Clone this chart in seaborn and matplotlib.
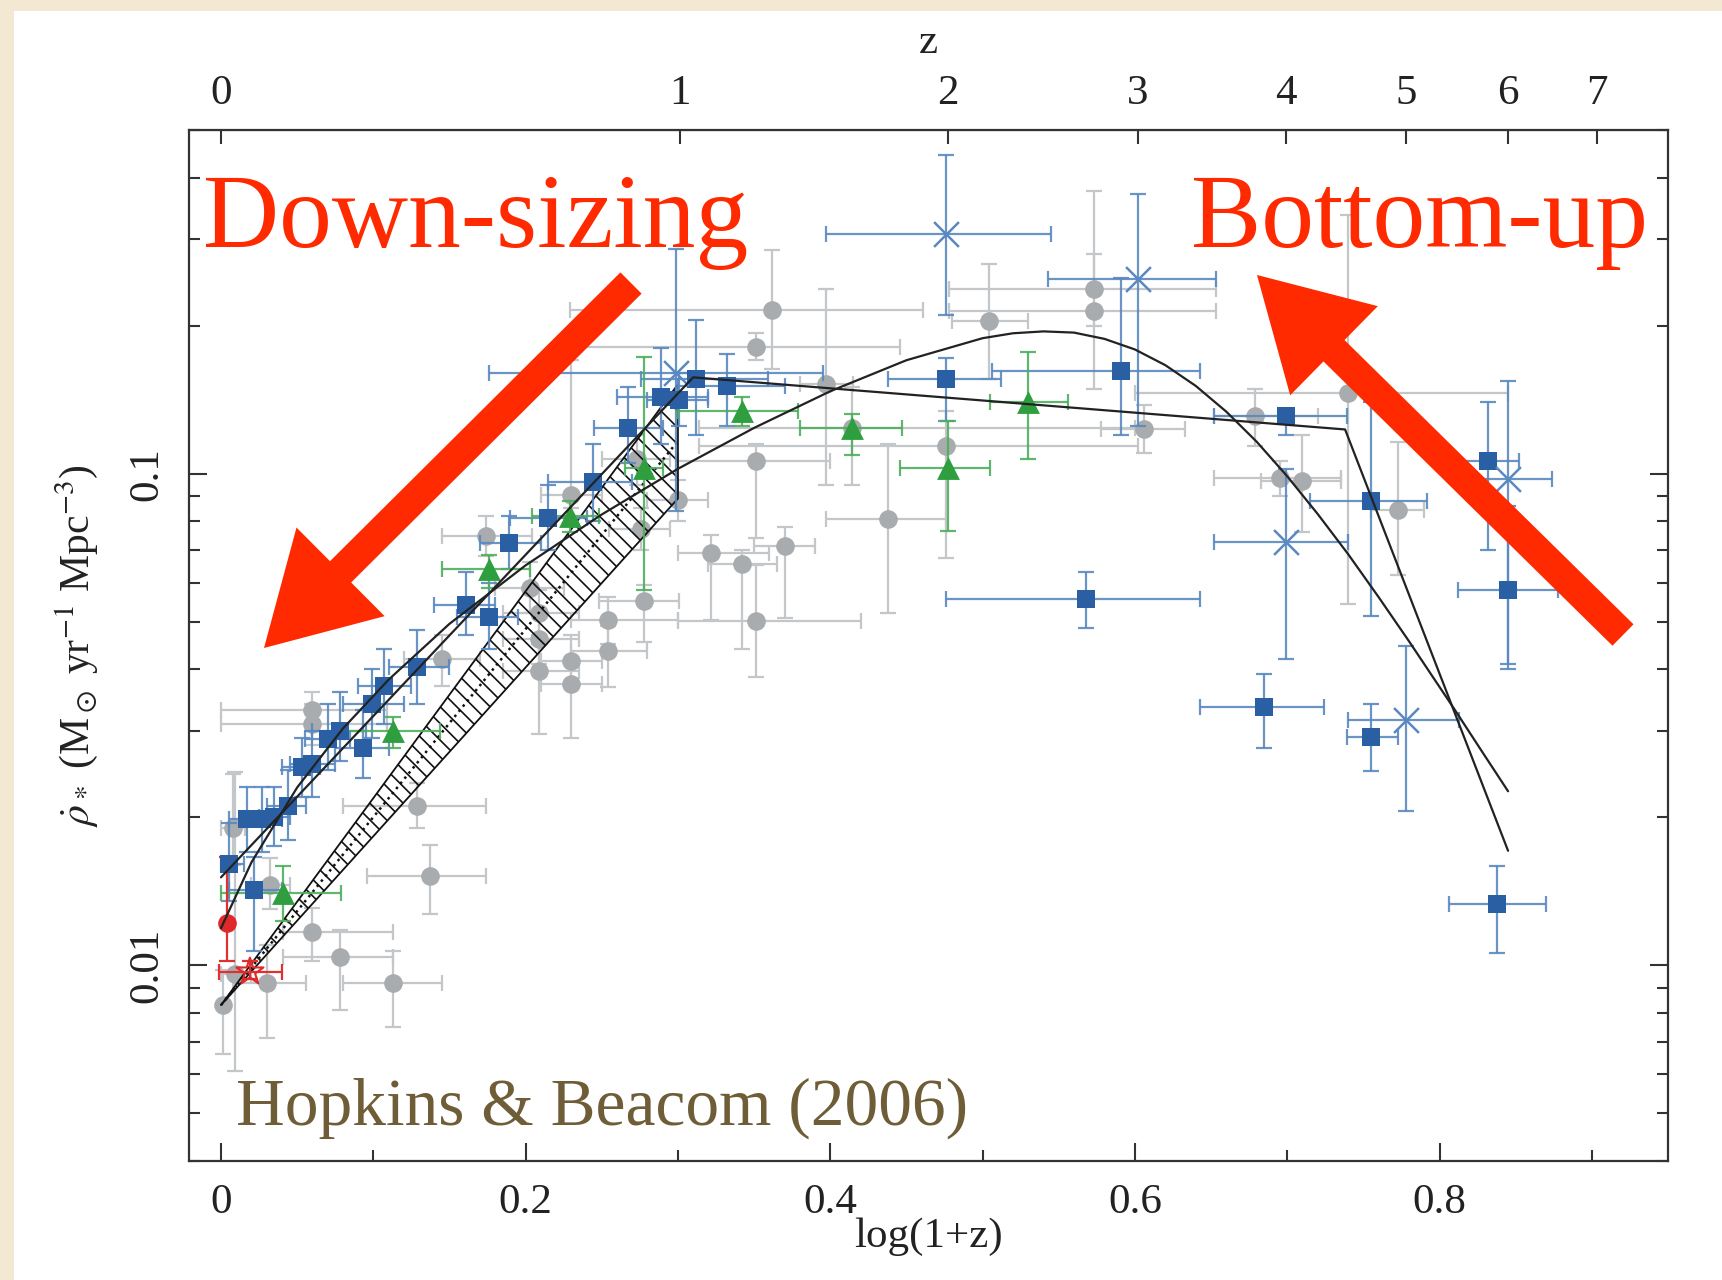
import matplotlib
matplotlib.use('Agg')
import matplotlib.pyplot as plt
from matplotlib.patches import FancyArrow, Rectangle
from matplotlib.transforms import IdentityTransform
from matplotlib.ticker import LogLocator, NullFormatter, MultipleLocator
import numpy as np
import seaborn as sns

# ---- data: x = log(1+z), y = SFR density; *_xlo/_xhi/_ylo/_yhi are error-bar ends ----
# grey circles (literature compilation)
grey_x   = [0.001, 0.009, 0.008, 0.032, 0.030, 0.060, 0.060, 0.060, 0.078, 0.113, 0.137, 0.129, 0.145, 0.174, 0.203, 0.209,
            0.209, 0.209, 0.230, 0.230, 0.230, 0.254, 0.254, 0.278, 0.322, 0.342, 0.351, 0.370, 0.362, 0.351, 0.351, 0.273,
            0.300, 0.276, 0.504, 0.573, 0.573, 0.606, 0.476, 0.438, 0.397, 0.740, 0.679, 0.710, 0.773, 0.695, 0.414]
grey_y   = [0.0083, 0.0096, 0.0190, 0.0146, 0.0092, 0.0331, 0.0309, 0.0117, 0.0104, 0.0092, 0.0152, 0.0211, 0.0420, 0.0746,
            0.0586, 0.0520, 0.0461, 0.0397, 0.0416, 0.0373, 0.0907, 0.0505, 0.0435, 0.0551, 0.0690, 0.0656, 0.0501, 0.0713,
            0.215, 0.181, 0.106, 0.107, 0.0884, 0.0773, 0.204, 0.214, 0.237, 0.123, 0.114, 0.081, 0.152, 0.146, 0.131,
            0.0965, 0.0844, 0.098, 0.124]
grey_xlo = [0.0, 0.0, 0.0, 0.020, 0.008, 0.0, 0.0, 0.041, 0.041, 0.080, 0.096, 0.080, 0.120, 0.145, 0.180, 0.185,
            0.185, 0.185, 0.210, 0.210, 0.210, 0.230, 0.230, 0.248, 0.300, 0.320, 0.300, 0.350, 0.229, 0.229, 0.300, 0.250,
            0.280, 0.255, 0.480, 0.478, 0.478, 0.578, 0.314, 0.397, 0.380, 0.600, 0.652, 0.683, 0.755, 0.652, 0.314]
grey_xhi = [0.003, 0.020, 0.016, 0.045, 0.056, 0.109, 0.109, 0.113, 0.113, 0.145, 0.174, 0.174, 0.170, 0.204, 0.225, 0.235,
            0.235, 0.235, 0.250, 0.250, 0.250, 0.300, 0.280, 0.301, 0.360, 0.365, 0.420, 0.390, 0.461, 0.446, 0.400, 0.295,
            0.320, 0.295, 0.530, 0.653, 0.653, 0.633, 0.602, 0.476, 0.415, 0.845, 0.720, 0.735, 0.790, 0.735, 0.600]
grey_ylo = [0.0066, 0.0061, 0.0160, 0.0130, 0.0071, 0.0300, 0.0280, 0.0102, 0.0081, 0.0075, 0.0127, 0.0190, 0.0370, 0.0680,
            0.0520, 0.0470, 0.0410, 0.0296, 0.0370, 0.0290, 0.0850, 0.0450, 0.0369, 0.0455, 0.0505, 0.0439, 0.0385, 0.0508,
            0.163, 0.170, 0.074, 0.095, 0.080, 0.070, 0.156, 0.149, 0.200, 0.110, 0.0673, 0.052, 0.095, 0.0543, 0.114,
            0.076, 0.0623, 0.090, 0.095]
grey_yhi = [0.0098, 0.0247, 0.0245, 0.0165, 0.0110, 0.0360, 0.0340, 0.0131, 0.0118, 0.0107, 0.0176, 0.0235, 0.0470, 0.0820,
            0.0660, 0.0580, 0.0520, 0.0450, 0.0470, 0.0420, 0.170, 0.0560, 0.0490, 0.0595, 0.0750, 0.0700, 0.0653, 0.0780,
            0.285, 0.193, 0.115, 0.120, 0.097, 0.085, 0.267, 0.375, 0.280, 0.138, 0.134, 0.115, 0.238, 0.336, 0.149,
            0.120, 0.116, 0.106, 0.150]

# blue squares
sq_x   = [0.838, 0.685, 0.755, 0.568, 0.755, 0.832, 0.845, 0.699, 0.591, 0.476, 0.332, 0.312, 0.289, 0.301, 0.267, 0.244,
          0.215, 0.189, 0.176, 0.161, 0.129, 0.107, 0.099, 0.093, 0.078, 0.070, 0.060, 0.053, 0.044, 0.035, 0.027, 0.017,
          0.005, 0.022]
sq_y   = [0.0133, 0.0335, 0.0291, 0.0557, 0.088, 0.106, 0.058, 0.131, 0.162, 0.156, 0.151, 0.156, 0.143, 0.141, 0.124,
          0.096, 0.0814, 0.0723, 0.051, 0.054, 0.0405, 0.037, 0.034, 0.0277, 0.030, 0.0288, 0.0257, 0.0253, 0.0211, 0.020,
          0.0198, 0.0198, 0.0161, 0.0142]
sq_xlo = [0.806, 0.643, 0.739, 0.476, 0.715, 0.812, 0.812, 0.652, 0.506, 0.438, 0.300, 0.276, 0.260, 0.280, 0.245, 0.215,
          0.190, 0.170, 0.155, 0.140, 0.110, 0.090, 0.080, 0.075, 0.060, 0.055, 0.045, 0.040, 0.030, 0.025, 0.015, 0.005,
          0.0, 0.005]
sq_xhi = [0.870, 0.724, 0.773, 0.643, 0.792, 0.852, 0.878, 0.739, 0.643, 0.512, 0.370, 0.359, 0.320, 0.320, 0.290, 0.270,
          0.240, 0.210, 0.195, 0.180, 0.150, 0.125, 0.120, 0.110, 0.095, 0.085, 0.075, 0.065, 0.056, 0.045, 0.040, 0.030,
          0.015, 0.040]
sq_ylo = [0.0106, 0.0277, 0.0249, 0.0486, 0.0513, 0.0698, 0.040, 0.120, 0.120, 0.128, 0.125, 0.120, 0.115, 0.125, 0.105,
          0.080, 0.070, 0.064, 0.044, 0.047, 0.034, 0.031, 0.029, 0.024, 0.026, 0.025, 0.022, 0.022, 0.018, 0.0175, 0.017,
          0.017, 0.0135, 0.0107]
sq_yhi = [0.0159, 0.0391, 0.034, 0.063, 0.140, 0.140, 0.086, 0.135, 0.250, 0.172, 0.175, 0.205, 0.180, 0.160, 0.150, 0.115,
          0.095, 0.082, 0.060, 0.063, 0.048, 0.044, 0.040, 0.033, 0.036, 0.034, 0.030, 0.029, 0.025, 0.023, 0.023, 0.023,
          0.0195, 0.0166]

# blue crosses
cr_x   = [0.476, 0.602, 0.699, 0.778, 0.845, 0.299]
cr_y   = [0.307, 0.249, 0.0727, 0.0315, 0.0975, 0.160]
cr_xlo = [0.397, 0.543, 0.652, 0.740, 0.812, 0.176]
cr_xhi = [0.545, 0.653, 0.740, 0.813, 0.874, 0.395]
cr_ylo = [0.210, 0.125, 0.042, 0.0206, 0.041, 0.084]
cr_yhi = [0.444, 0.371, 0.102, 0.0446, 0.154, 0.287]

# green triangles
tri_x   = [0.041, 0.113, 0.176, 0.229, 0.278, 0.342, 0.414, 0.477, 0.530]
tri_y   = [0.0140, 0.0299, 0.064, 0.082, 0.1026, 0.134, 0.124, 0.1026, 0.140]
tri_xlo = [0.0, 0.079, 0.145, 0.204, 0.265, 0.300, 0.380, 0.446, 0.505]
tri_xhi = [0.079, 0.144, 0.203, 0.248, 0.290, 0.379, 0.447, 0.505, 0.556]
tri_ylo = [0.0123, 0.0277, 0.0586, 0.076, 0.058, 0.125, 0.109, 0.0765, 0.107]
tri_yhi = [0.0159, 0.032, 0.0684, 0.088, 0.173, 0.143, 0.132, 0.128, 0.177]

# red points (circle, open star)
red_x   = [0.004, 0.019]
red_y   = [0.0122, 0.0097]
red_xlo = [0.004, -0.001]
red_xhi = [0.004, 0.040]
red_ylo = [0.0102, 0.0094]
red_yhi = [0.0166, 0.0102]

# fits
pw_x = [0.0, 0.31, 0.738, 0.845]
pw_y = [0.0151, 0.157, 0.123, 0.0171]
cole_x = [0.0, 0.02, 0.05, 0.08, 0.11, 0.15, 0.20, 0.25, 0.30, 0.35, 0.40, 0.45, 0.50, 0.52, 0.54, 0.56, 0.58, 0.60,
          0.62, 0.64, 0.66, 0.68, 0.70, 0.72, 0.74, 0.76, 0.78, 0.81, 0.83, 0.845]
cole_y = [0.0119, 0.0162, 0.0230, 0.0303, 0.0381, 0.0495, 0.0651, 0.0826, 0.1023, 0.1239, 0.1471, 0.1701, 0.1886,
          0.1930, 0.1947, 0.1936, 0.1880, 0.1789, 0.1662, 0.1508, 0.1337, 0.1161, 0.0988, 0.0828, 0.0686, 0.0561,
          0.0456, 0.0331, 0.0266, 0.0226]

# hatched 24um band
band_x = [0.0, 0.30]
band_lo = [0.0083, 0.089]
band_hi = [0.0083, 0.152]
band_mid = [0.0083, 0.1165]

z_ticks = [0, 1, 2, 3, 4, 5, 6, 7]

RED = '#ff2a00'
BLUE = '#2b5fa3'
BLUE_E = '#5a88c0'
GREEN = '#2f9e3f'
GREEN_E = '#4fae5c'
GREY = '#a8acaf'
GREY_E = '#c3c7c9'

sns.set_style('ticks')
plt.rcParams['font.family'] = ['Liberation Serif', 'DejaVu Serif']
plt.rcParams['mathtext.fontset'] = 'stix'
plt.rcParams['hatch.linewidth'] = 1.2

W, H = 1722, 1280
fig = plt.figure(figsize=(W / 100, H / 100), dpi=100)
fig.patch.set_facecolor('#f3e9d3')
fig.add_artist(Rectangle((14 / W, 0), 1, 1 - 11 / H, transform=fig.transFigure,
                         facecolor='white', edgecolor='none', zorder=-5))

ax = fig.add_axes([189 / W, 1 - 1161 / H, (1668 - 189) / W, (1161 - 130) / H])
ax.set_facecolor('white')
ax.set_yscale('log')


def draw_set(x, y, xlo, xhi, ylo, yhi, ecolor, z, alpha=1.0):
    x, y = np.array(x), np.array(y)
    xerr = [x - np.array(xlo), np.array(xhi) - x]
    yerr = [y - np.array(ylo), np.array(yhi) - y]
    ax.errorbar(x, y, xerr=xerr, yerr=yerr, fmt='none', ecolor=ecolor, elinewidth=1.6,
                capsize=6, capthick=1.6, zorder=z, alpha=alpha)


# grey compilation
draw_set(grey_x, grey_y, grey_xlo, grey_xhi, grey_ylo, grey_yhi, GREY_E, 1)
sns.scatterplot(x=grey_x, y=grey_y, marker='o', color=GREY, s=180, linewidth=0, ax=ax, zorder=1.5)

# hatched band
ax.fill_between(band_x, band_lo, band_hi, facecolor='none', edgecolor='#111111', hatch='\\\\',
                linewidth=1.3, zorder=2)
sns.lineplot(x=band_x, y=band_mid, color='#111111', lw=1.8, linestyle=':', ax=ax, zorder=2)

# blue / green / red sets
draw_set(sq_x, sq_y, sq_xlo, sq_xhi, sq_ylo, sq_yhi, BLUE_E, 3, alpha=0.9)
draw_set(cr_x, cr_y, cr_xlo, cr_xhi, cr_ylo, cr_yhi, BLUE_E, 3, alpha=0.9)
draw_set(tri_x, tri_y, tri_xlo, tri_xhi, tri_ylo, tri_yhi, GREEN_E, 3, alpha=0.9)
draw_set(red_x, red_y, red_xlo, red_xhi, red_ylo, red_yhi, '#e03030', 3)

sns.scatterplot(x=sq_x, y=sq_y, marker='s', color=BLUE, s=180, linewidth=0, ax=ax, zorder=3.5)
sns.scatterplot(x=cr_x, y=cr_y, marker='x', color=BLUE_E, s=320, linewidth=1.8, ax=ax, zorder=3.5)
sns.scatterplot(x=tri_x, y=tri_y, marker='^', color=GREEN, s=270, linewidth=0, ax=ax, zorder=3.5)
sns.scatterplot(x=red_x[:1], y=red_y[:1], marker='o', color='#e02828', s=180, linewidth=0, ax=ax, zorder=3.5)
ax.scatter(red_x[1:], red_y[1:], marker='*', s=420, facecolors='none', edgecolors='#e02828',
           linewidths=1.5, zorder=3.5)

# fit curves
sns.lineplot(x=pw_x, y=pw_y, sort=False, estimator=None, color='#222222', lw=1.6, ax=ax, zorder=4)
sns.lineplot(x=cole_x, y=cole_y, sort=False, estimator=None, color='#222222', lw=1.6, ax=ax, zorder=4)

# axes
ax.set_xlim(-0.021, 0.950)
ax.set_ylim(0.004, 0.5)
ax.set_xticks([0, 0.2, 0.4, 0.6, 0.8])
ax.set_xticklabels(['0', '0.2', '0.4', '0.6', '0.8'])
ax.xaxis.set_minor_locator(MultipleLocator(0.1))
ax.set_yticks([0.01, 0.1])
ax.set_yticklabels(['0.01', '0.1'], rotation=90, va='center')
ax.yaxis.set_minor_locator(LogLocator(base=10, subs=np.arange(2, 10)))
ax.yaxis.set_minor_formatter(NullFormatter())
ax.tick_params(which='both', direction='in', top=False, right=True, colors='#333333',
               labelcolor='#222222', labelsize=31, width=1.5)
ax.tick_params(which='major', length=13)
ax.tick_params(which='minor', length=8)
ax.tick_params(axis='x', pad=16)
ax.tick_params(axis='y', pad=16)
for s in ax.spines.values():
    s.set_linewidth(1.6)
    s.set_color('#333333')

ax.set_xlabel('log(1+z)', fontsize=31, labelpad=-3, color='#222222')
ax.set_ylabel(r'$\dot{\rho}_*$ (M$_\odot$ yr$^{-1}$ Mpc$^{-3}$)', fontsize=30, labelpad=20, color='#222222')

sec = ax.secondary_xaxis('top')
sec.set_xticks(np.log10(1 + np.array(z_ticks)))
sec.set_xticklabels([str(z) for z in z_ticks])
sec.tick_params(direction='in', length=10, width=1.5, colors='#333333', labelcolor='#222222',
                labelsize=31, pad=12)
sec.set_xlabel('z', fontsize=31, labelpad=16, color='#222222')

# annotations
fig.text(203 / W, 1 - 247 / H, 'Down-sizing', color=RED, fontsize=76, ha='left', va='baseline', zorder=12)
fig.text(1191 / W, 1 - 247 / H, 'Bottom-up', color=RED, fontsize=76, ha='left', va='baseline', zorder=12)
fig.text(236 / W, 1 - 1125 / H, 'Hopkins & Beacom (2006)', color='#6e5d37', fontsize=48.5,
         ha='left', va='baseline', zorder=12)

for tail, tip in [((631, 997), (264, 632)), ((1623, 645), (1257, 1005))]:
    arr = FancyArrow(tail[0], tail[1], tip[0] - tail[0], tip[1] - tail[1], width=30,
                     head_width=125, head_length=108, length_includes_head=True,
                     color=RED, linewidth=0, transform=IdentityTransform(), zorder=11)
    fig.add_artist(arr)

fig.savefig('out.png', dpi=100, facecolor=fig.get_facecolor())
